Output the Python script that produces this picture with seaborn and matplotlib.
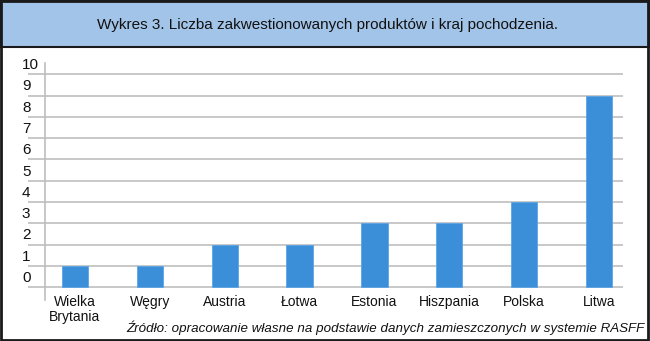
import matplotlib
matplotlib.use("Agg")
import matplotlib.pyplot as plt
import seaborn as sns
import pandas as pd
from matplotlib.patches import Rectangle

countries = ["Wielka\nBrytania", "Węgry", "Austria", "Łotwa", "Estonia", "Hiszpania", "Polska", "Litwa"]
values = [1, 1, 2, 2, 3, 3, 4, 9]
y_ticks = list(range(0, 11))
title = "Wykres 3. Liczba zakwestionowanych produktów i kraj pochodzenia."
source = "Źródło: opracowanie własne na podstawie danych zamieszczonych w systemie RASFF"

sns.set_theme(style="white")
plt.rcParams["font.family"] = ["Liberation Sans", "DejaVu Sans"]

W, H = 650, 341
fig = plt.figure(figsize=(W / 100, H / 100), dpi=100)

# title band
fig.patches.append(Rectangle((0, 1 - 47 / H), 1, 47 / H, transform=fig.transFigure,
                             facecolor="#A3C4E9", edgecolor="#1a1a1a", lw=1.5, zorder=0))
# outer frame
fig.patches.append(Rectangle((0.002, 0.003), 0.995, 0.994, transform=fig.transFigure,
                             facecolor="none", edgecolor="#1a1a1a", lw=2, zorder=5))
fig.text(327.5 / W, 1 - 25 / H, title, ha="center", va="center", fontsize=11, color="#111111")

x0, x1 = 45, 623
y_top, y_bot = 63, 300
ax = fig.add_axes([x0 / W, 1 - y_bot / H, (x1 - x0) / W, (y_bot - y_top) / H])

df = pd.DataFrame({"kraj": countries, "liczba": values})
sns.barplot(data=df, x="kraj", y="liczba", color="#3A8FD8", width=0.35,
            edgecolor="#5AA5E6", linewidth=0.6, saturation=1, ax=ax, zorder=3)

ax.set_xlim(-0.4, 7.32)
ax.set_ylim(-0.6, 10.53)
ax.set_xlabel("")
ax.set_ylabel("")
for s in ["top", "right", "bottom"]:
    ax.spines[s].set_visible(False)
ax.spines["left"].set_color("#BDBDBD")
ax.spines["left"].set_linewidth(1.2)

ax.set_yticks(y_ticks)
ax.set_yticklabels([])
ax.yaxis.grid(True, color="#C4C4C4", lw=1.3, zorder=0)
ax.tick_params(axis="y", length=12.5, width=1.3, color="#C4C4C4", direction="out", left=True)
for v in y_ticks:
    ax.text(-0.04, v + 0.43, str(v), transform=ax.get_yaxis_transform(),
            ha="left", va="center", fontsize=11, color="#111111")

ax.tick_params(axis="x", length=0, pad=-3.5, labelsize=10, labelcolor="#111111")
for lbl in ax.get_xticklabels():
    lbl.set_linespacing(1.1)

fig.text(645 / W, 1 - 328 / H, source, ha="right", va="center", fontsize=9.6,
         style="italic", color="#111111")

fig.savefig("out.png", dpi=100)
